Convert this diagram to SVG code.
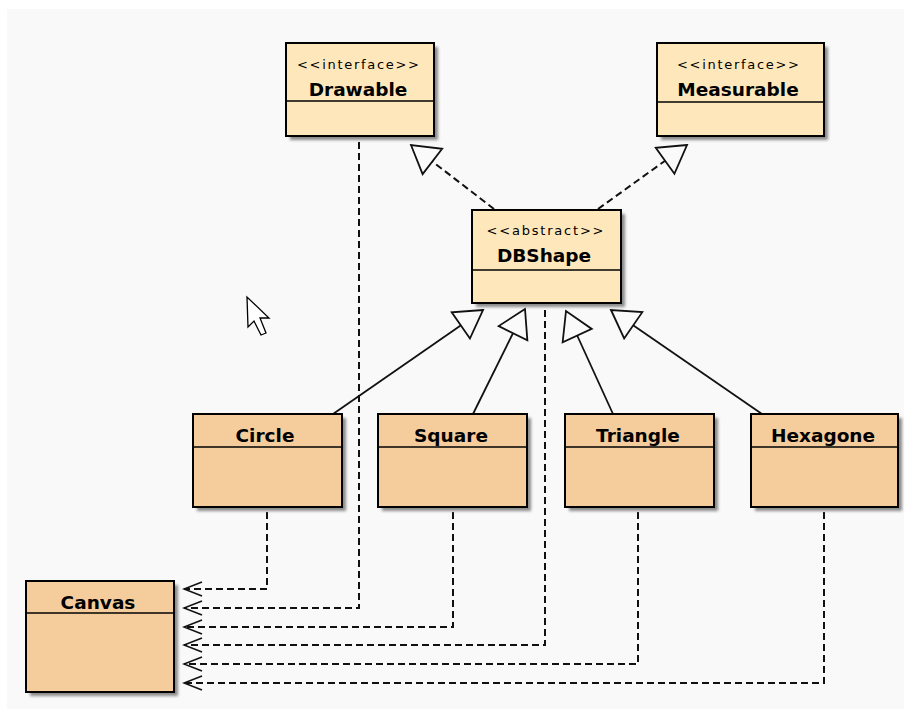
<svg xmlns="http://www.w3.org/2000/svg" width="910" height="709" viewBox="0 0 910 709">
  <style>
    .box { stroke: #000; stroke-width: 2; }
    .iface { fill: #fee8bb; }
    .cls { fill: #f5cd9d; }
    .div { stroke: #000; stroke-width: 1.6; }
    .shadow { fill: #8a8a8a; filter: url(#soft); }
    .name { font-family: "DejaVu Sans", Verdana, sans-serif; font-weight: bold; font-size: 18.5px; fill: #000; text-anchor: middle; }
    .stereo { font-family: "DejaVu Sans", Verdana, sans-serif; font-size: 13px; fill: #000; text-anchor: middle; }
    .solid { fill: none; stroke: #111; stroke-width: 1.8; }
    .dash { fill: none; stroke: #111; stroke-width: 2; stroke-dasharray: 7 4; }
  </style>
  <defs>
    <filter id="soft" x="-10%" y="-10%" width="120%" height="120%">
      <feGaussianBlur stdDeviation="1.5"/>
    </filter>
    <!-- hollow triangle for generalization / realization -->
    <marker id="hollow" markerUnits="userSpaceOnUse" viewBox="-30 -20 34 40" refX="0" refY="0" markerWidth="34" markerHeight="40" orient="auto">
      <path d="M0,0 L-27,-16 L-27,16 Z" fill="#fafafa" stroke="#111" stroke-width="1.8" stroke-linejoin="miter"/>
    </marker>
    <!-- open arrowhead for dependencies -->
    <marker id="open" markerUnits="userSpaceOnUse" viewBox="-22 -10 24 20" refX="0" refY="0" markerWidth="24" markerHeight="20" orient="auto">
      <path d="M-18,-7 L0,0 L-18,7" fill="none" stroke="#111" stroke-width="1.6"/>
    </marker>
  </defs>

  <rect x="7" y="9" width="897" height="700" fill="#f9f9f9"/>

  <!-- connectors -->
  <g id="connectors">
    <!-- realizations -->
    <path class="dash" d="M494,209 L411,145" marker-end="url(#hollow)"/>
    <path class="dash" d="M598,209 L687,145" marker-end="url(#hollow)"/>
    <!-- generalizations -->
    <path class="solid" d="M333,414 L483,310" marker-end="url(#hollow)"/>
    <path class="solid" d="M473,414 L525,309" marker-end="url(#hollow)"/>
    <path class="solid" d="M613,414 L566,311" marker-end="url(#hollow)"/>
    <path class="solid" d="M762,414 L611,310" marker-end="url(#hollow)"/>
    <!-- dependencies on Canvas -->
    <path class="dash" d="M267,512 V589 H184" marker-end="url(#open)"/>
    <path class="dash" d="M359,142 V608 H184" marker-end="url(#open)"/>
    <path class="dash" d="M453,512 V627 H184" marker-end="url(#open)"/>
    <path class="dash" d="M545,310 V645 H184" marker-end="url(#open)"/>
    <path class="dash" d="M638,512 V664 H184" marker-end="url(#open)"/>
    <path class="dash" d="M824,512 V683 H184" marker-end="url(#open)"/>
  </g>

  <g id="Drawable">
    <rect class="shadow" x="290" y="47" width="148" height="93"/>
    <rect class="box iface" x="286" y="43" width="148" height="93"/>
    <line class="div" x1="286" y1="101" x2="434" y2="101"/>
    <text class="stereo" x="358" y="69" textLength="122" lengthAdjust="spacing">&lt;&lt;interface&gt;&gt;</text>
    <text class="name" x="358" y="96">Drawable</text>
  </g>

  <g id="Measurable">
    <rect class="shadow" x="661" y="47" width="167" height="93"/>
    <rect class="box iface" x="657" y="43" width="167" height="93"/>
    <line class="div" x1="657" y1="102" x2="824" y2="102"/>
    <text class="stereo" x="738" y="69" textLength="122" lengthAdjust="spacing">&lt;&lt;interface&gt;&gt;</text>
    <text class="name" x="738" y="96">Measurable</text>
  </g>

  <g id="DBShape">
    <rect class="shadow" x="476" y="214" width="149" height="93"/>
    <rect class="box iface" x="472" y="210" width="149" height="93"/>
    <line class="div" x1="472" y1="270" x2="621" y2="270"/>
    <text class="stereo" x="545" y="235" textLength="117" lengthAdjust="spacing">&lt;&lt;abstract&gt;&gt;</text>
    <text class="name" x="544" y="262">DBShape</text>
  </g>

  <g id="Circle">
    <rect class="shadow" x="197" y="418" width="149" height="93"/>
    <rect class="box cls" x="193" y="414" width="149" height="93"/>
    <line class="div" x1="193" y1="447" x2="342" y2="447"/>
    <text class="name" x="265" y="442">Circle</text>
  </g>

  <g id="Square">
    <rect class="shadow" x="382" y="418" width="149" height="93"/>
    <rect class="box cls" x="378" y="414" width="149" height="93"/>
    <line class="div" x1="378" y1="447" x2="527" y2="447"/>
    <text class="name" x="451" y="442">Square</text>
  </g>

  <g id="Triangle">
    <rect class="shadow" x="569" y="418" width="149" height="93"/>
    <rect class="box cls" x="565" y="414" width="149" height="93"/>
    <line class="div" x1="565" y1="447" x2="714" y2="447"/>
    <text class="name" x="638" y="442">Triangle</text>
  </g>

  <g id="Hexagone">
    <rect class="shadow" x="755" y="418" width="147" height="93"/>
    <rect class="box cls" x="751" y="414" width="147" height="93"/>
    <line class="div" x1="751" y1="447" x2="898" y2="447"/>
    <text class="name" x="823" y="442">Hexagone</text>
  </g>

  <g id="Canvas">
    <rect class="shadow" x="30" y="585" width="148" height="111"/>
    <rect class="box cls" x="26" y="581" width="148" height="111"/>
    <line class="div" x1="26" y1="613" x2="174" y2="613"/>
    <text class="name" x="98" y="609">Canvas</text>
  </g>

  <!-- mouse pointer -->
  <path d="M247,297 L248,327 L254,321 L261,335 L266,333 L260,318 L269,318 Z" fill="#fff" stroke="#000" stroke-width="1.3" stroke-linejoin="miter"/>
</svg>
